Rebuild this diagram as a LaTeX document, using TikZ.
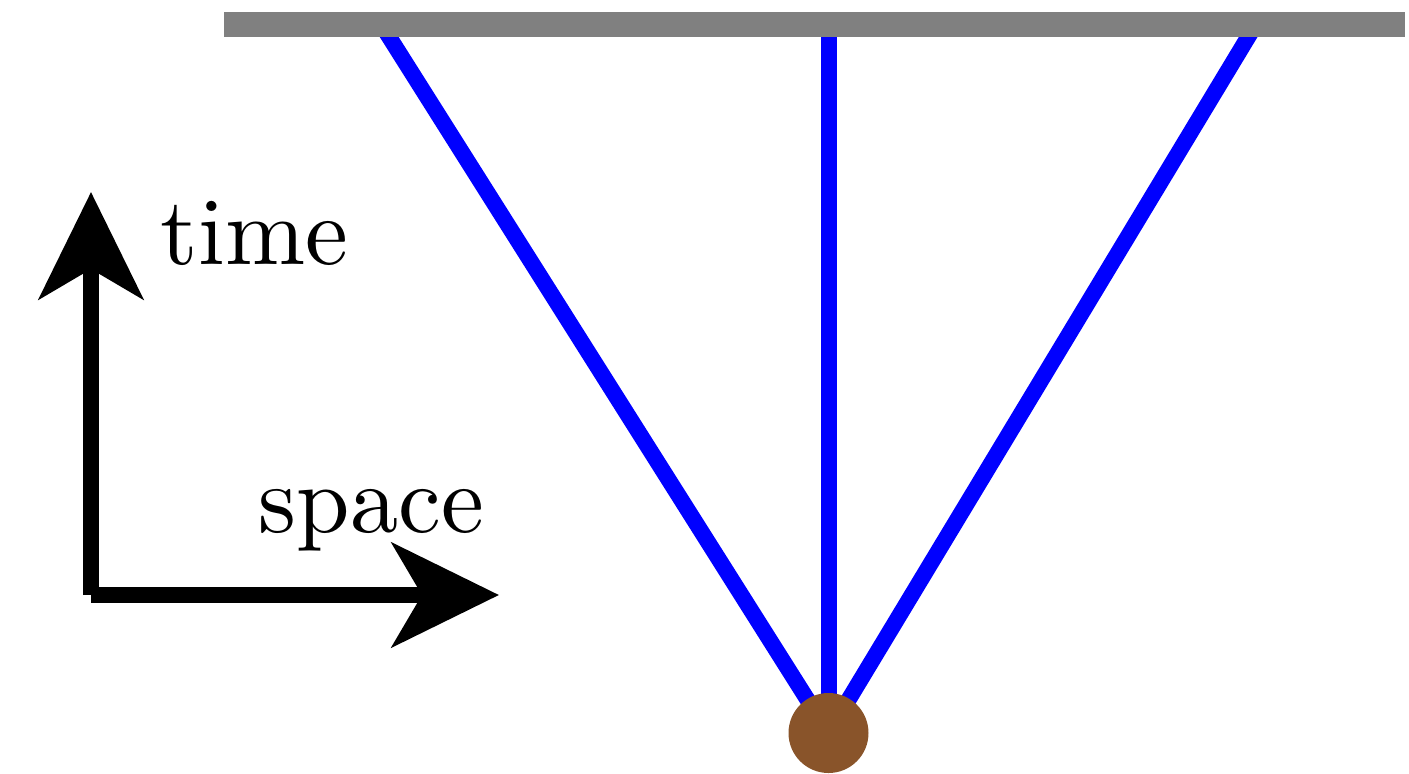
\documentclass[tikz,border=0pt]{standalone}
\usetikzlibrary{arrows.meta}
\definecolor{rayblue}{RGB}{0,0,255}
\definecolor{bargray}{RGB}{128,128,128}
\definecolor{srcbrown}{RGB}{137,84,42}
\begin{document}
\begin{tikzpicture}[x=0.5pt,y=-0.5pt,
  ray/.style={draw=rayblue,line width=8pt},
  axis/.style={draw=black,line width=8pt,-{Stealth[length=53.5pt,width=52pt,inset=15pt]}},
  lbl/.style={inner sep=0pt,anchor=base west,font=\fontsize{10}{12}\selectfont,scale=4.81,transform shape},
  src/.style={circle,fill=srcbrown,draw=none,inner sep=0pt,minimum size=40pt}]
\useasboundingbox (0,0) rectangle (1409,773);
% rays
\coordinate (tl) at (381,24);
\coordinate (tm) at (828.5,24);
\coordinate (tr) at (1256,24);
\coordinate (s) at (828.5,733);
\draw[ray] (s) -- (tl);
\draw[ray] (s) -- (tm);
\draw[ray] (s) -- (tr);
% screen bar
\fill[bargray] (224,12) rectangle (1405,36.5);
% source
\node[src] (source) at (s) {};
% axes
\coordinate (o) at (91,595);
\coordinate (up) at (91,192);
\coordinate (right) at (499,595);
\draw[axis] (o) -- (up);
\draw[axis] (o) -- (right);
\node[lbl] (time) at (159,264) {time};
\node[lbl] (space) at (257,532) {space};
\end{tikzpicture}
\end{document}
